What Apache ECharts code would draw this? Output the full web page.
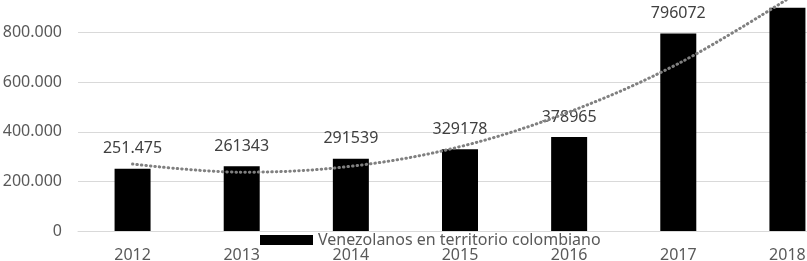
<!DOCTYPE html>
<html>
<head>
<meta charset="utf-8">
<script src="https://cdn.jsdelivr.net/npm/echarts@6/dist/echarts.min.js"></script>
<style>
html,body{margin:0;padding:0;background:#fff;}
#chart{width:807px;height:261px;}
</style>
</head>
<body>
<div id="chart"></div>
<script>
const categories = ["2012","2013","2014","2015","2016","2017","2018"];
const seriesName = "Venezolanos en territorio colombiano";
const values = [251475, 261343, 291539, 329178, 378965, 796072, 900000];
const valueLabels = ["251.475","261343","291539","329178","378965","796072",""];
const trendValues = [270000, 237000, 261000, 340000, 480000, 675000, 935000];
const yTicks = [0, 200000, 400000, 600000, 800000, 1000000];

function fmt(v){
  return String(v).replace(/\B(?=(\d{3})+(?!\d))/g, ".");
}

const chart = echarts.init(document.getElementById('chart'), null, {renderer:'canvas'});
chart.setOption({
  animation:false,
  backgroundColor:'#ffffff',
  textStyle:{fontFamily:'Noto Sans'},
  grid:{left:78, right:-35, top:-17, bottom:30, containLabel:false, outerBoundsMode:'none'},
  legend:{
    data:[seriesName],
    left:255, top:227,
    itemWidth:53, itemHeight:10, itemGap:5,
    textStyle:{color:'#595959', fontSize:16, fontFamily:'Noto Sans'},
    icon:'rect'
  },
  xAxis:{
    type:'category',
    data:categories,
    axisLine:{show:true, lineStyle:{color:'#d9d9d9', width:1}},
    axisTick:{show:false},
    axisLabel:{color:'#595959', fontSize:16, fontFamily:'Noto Sans', margin:16}
  },
  yAxis:{
    type:'value',
    min:yTicks[0], max:yTicks[yTicks.length-1], interval:yTicks[1]-yTicks[0],
    axisLine:{show:false},
    axisTick:{show:false},
    splitLine:{lineStyle:{color:'#d9d9d9', width:1}},
    axisLabel:{color:'#595959', fontSize:16, fontFamily:'Noto Sans', margin:16, formatter:fmt}
  },
  series:[
    {
      name:seriesName,
      type:'bar',
      data:values,
      barWidth:36,
      itemStyle:{color:'#000000'},
      label:{
        show:true, position:'top', distance:12,
        color:'#404040', fontSize:16, fontFamily:'Noto Sans',
        formatter:function(p){return valueLabels[p.dataIndex];}
      }
    },
    {
      name:'trend',
      type:'line',
      data:trendValues,
      smooth:0.35,
      symbol:'none',
      lineStyle:{color:'#808080', width:3, type:[0.5,4], cap:'round'},
      z:5
    }
  ]
});
</script>
</body>
</html>
